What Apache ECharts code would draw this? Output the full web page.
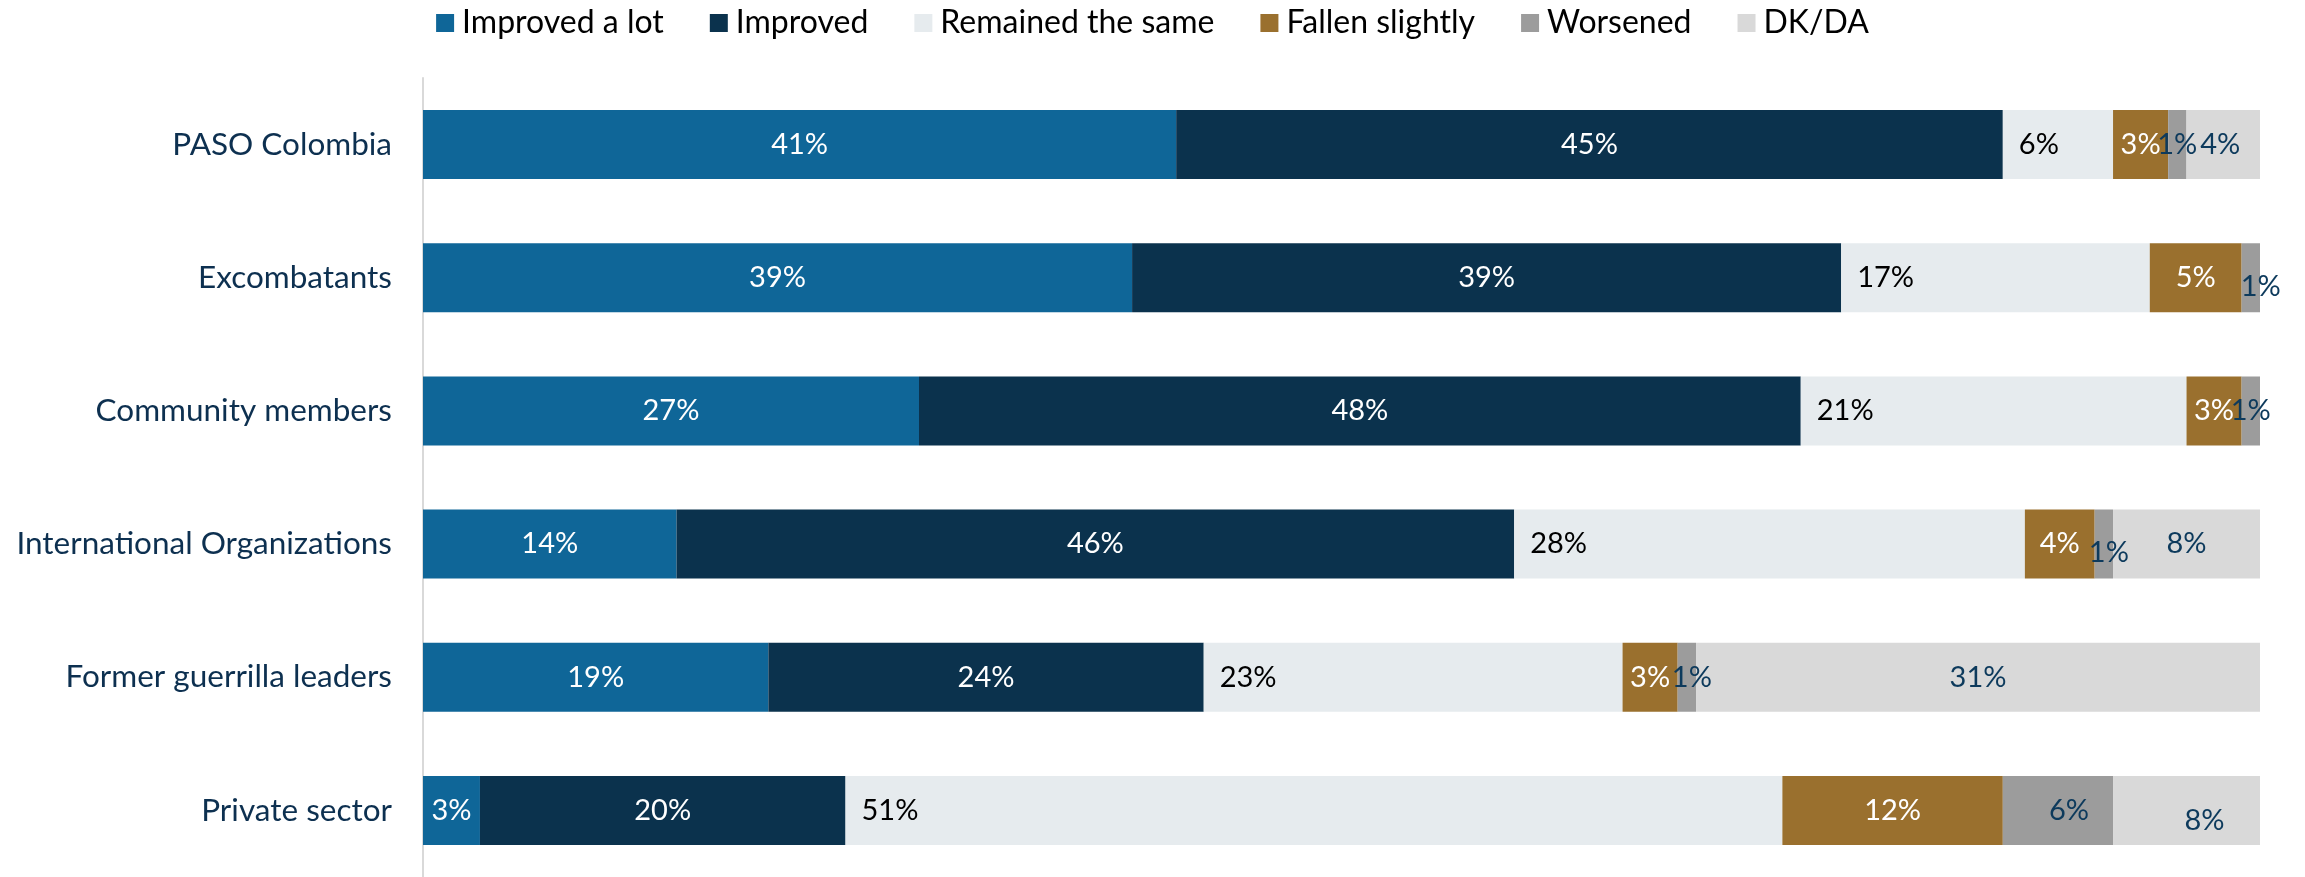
<!DOCTYPE html>
<html>
<head>
<meta charset="utf-8">
<script src="https://cdn.jsdelivr.net/npm/echarts@6/dist/echarts.min.js"></script>
<style>html,body{margin:0;padding:0;background:#fff}#c{width:2305px;height:877px}</style>
</head>
<body>
<div id="c"></div>
<script>
const categories = ["PASO Colombia", "Excombatants", "Community members", "International Organizations", "Former guerrilla leaders", "Private sector"];
const seriesNames = ["Improved a lot", "Improved", "Remained the same", "Fallen slightly", "Worsened", "DK/DA"];
const improvedALot = [41, 38.6, 27, 13.8, 18.8, 3.1];
const improved = [45, 38.6, 48, 45.6, 23.7, 19.9];
const remainedSame = [6, 16.8, 21, 27.8, 22.8, 51];
const fallenSlightly = [3, 5, 3, 3.8, 3, 12];
const worsened = [1, 1, 1, 1, 1, 6];
const dkda = [4, 0, 0, 8, 30.7, 8];

const values = [improvedALot, improved, remainedSame, fallenSlightly, worsened, dkda];
const colors = ['#0f6698', '#0b324d', '#e6ebee', '#9a702e', '#9c9c9c', '#d9d9d9'];
const labelColors = ['#ffffff', '#ffffff', '#000000', '#ffffff', '#0d3a5c', '#0d3a5c'];
// label nudges [dx, dy] keyed by series index -> row index
const nudges = {4: {1: [10, 9], 3: [5, 9], 4: [5, 0], 5: [11, 0]}, 5: {0: [-3, 0], 5: [18, 10]}};

const series = values.map((arr, si) => ({
  name: seriesNames[si],
  type: 'bar',
  stack: 'total',
  barWidth: 69,
  itemStyle: {color: colors[si]},
  label: {
    show: true,
    position: si === 2 ? 'insideLeft' : 'inside',
    distance: 16,
    fontFamily: 'Lato',
    fontSize: 29,
    color: labelColors[si],
    formatter: p => p.value > 0 ? Math.round(p.value) + '%' : ''
  },
  data: arr.map((v, ri) => {
    const n = nudges[si] && nudges[si][ri];
    return n ? {value: v, label: {offset: n}} : v;
  })
}));

const chart = echarts.init(document.getElementById('c'), null, {renderer: 'canvas'});
chart.setOption({
  animation: false,
  legend: {
    top: 2,
    left: 'center',
    icon: 'rect',
    itemWidth: 18,
    itemHeight: 18,
    itemGap: 46,
    textStyle: {fontFamily: 'Lato', fontSize: 32, color: '#000', padding: [0, 0, 0, 3]},
    data: seriesNames
  },
  grid: {left: 423, right: 45, top: 78, height: 804, containLabel: false},
  xAxis: {type: 'value', min: 0, max: 100, show: false},
  yAxis: {
    type: 'category',
    inverse: true,
    data: categories,
    axisLine: {show: true, lineStyle: {color: '#d9d9d9', width: 2}},
    axisTick: {show: false},
    axisLabel: {fontFamily: 'Lato', fontSize: 31.5, color: '#0d3050', margin: 31}
  },
  series: series
});
</script>
</body>
</html>
